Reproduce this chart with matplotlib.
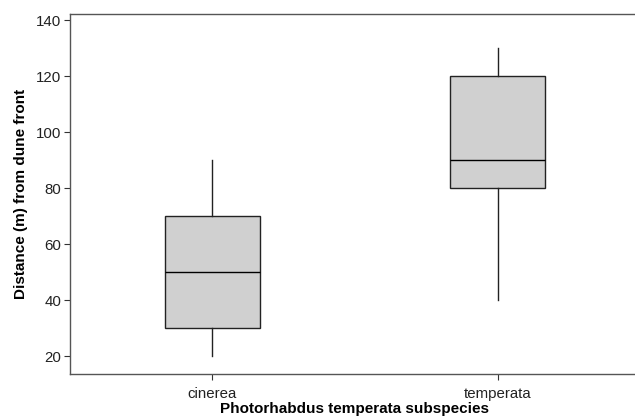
import matplotlib.pyplot as plt

plt.rcParams['font.family'] = ['Liberation Sans', 'DejaVu Sans']

# five-number summaries
subspecies = ['cinerea', 'temperata']
whislo = [20, 40]
q1 = [30, 80]
med = [50, 90]
q3 = [70, 120]
whishi = [90, 130]


def main():
    fig = plt.figure(figsize=(6.35, 4.17), dpi=100)
    ax = fig.add_axes([0.110, 0.103, 0.898, 0.863])

    stats = []
    for i, name in enumerate(subspecies):
        stats.append({'label': name, 'whislo': whislo[i], 'q1': q1[i], 'med': med[i],
                      'q3': q3[i], 'whishi': whishi[i], 'fliers': []})

    ax.bxp(stats, positions=[1, 2], widths=0.333, showcaps=False, patch_artist=True,
           boxprops=dict(facecolor='#d0d0d0', edgecolor='#222222', linewidth=1.0),
           medianprops=dict(color='black', linewidth=1.0),
           whiskerprops=dict(color='#222222', linewidth=1.0))

    ax.set_xlim(0.5, 2.5)
    ax.set_ylim(13.6, 142.1)
    ax.set_yticks([20, 40, 60, 80, 100, 120, 140])

    for s in ['left', 'bottom', 'top']:
        ax.spines[s].set_color('#555555')
        ax.spines[s].set_linewidth(1.0)
    ax.spines['right'].set_visible(False)
    ax.tick_params(length=4, width=0.8, color='#333333', labelsize=10.8, labelcolor='#222222', pad=2)
    ax.tick_params(axis='x', pad=5)

    ax.set_ylabel('Distance (m) from dune front', fontsize=11, fontweight='bold', labelpad=6)
    ax.set_xlabel('Photorhabdus temperata subspecies', fontsize=11, fontweight='bold', labelpad=1)

    fig.savefig('out.png', dpi=100)


if __name__ == "__main__":
    main()
